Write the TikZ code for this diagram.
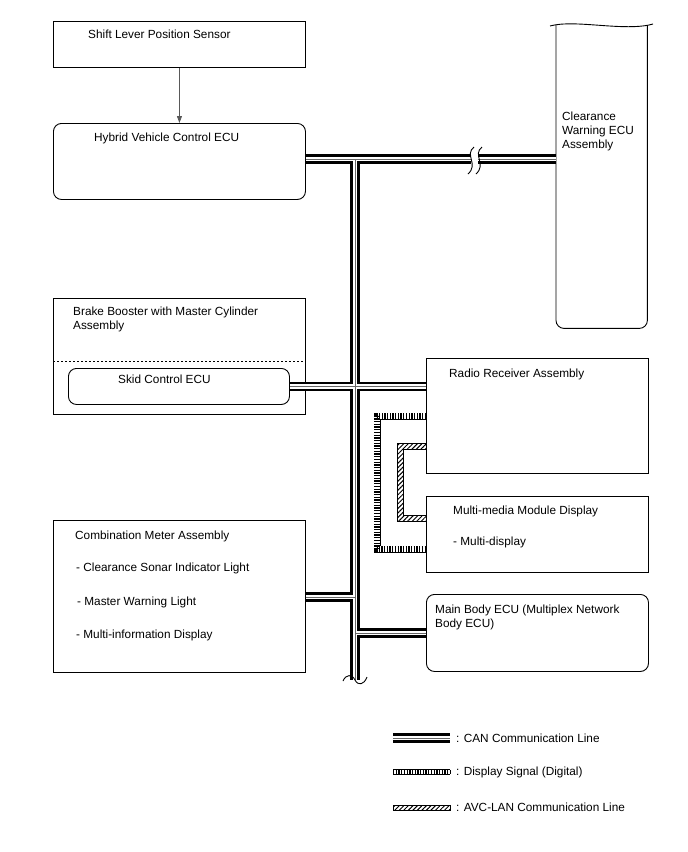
\documentclass[tikz,border=0pt]{standalone}
\usepackage{fontspec}
\setmainfont{Liberation Sans}
\usetikzlibrary{patterns.meta,arrows.meta}
\begin{document}
\begin{tikzpicture}[x=1pt,y=-1pt,
  box/.style={draw,line width=0.9pt,rectangle,anchor=north west,inner sep=0pt},
  rbox/.style={box,rounded corners=8pt},
  lbl/.style={anchor=west,inner sep=0pt,font=\fontsize{11.8}{14}\selectfont,align=left},
  disp/.style={line width=5.4pt,dash pattern=on 1.3pt off 1.4pt,line join=miter},
  avcfill/.style={pattern={Lines[angle=45,distance=3.2pt,line width=1pt]}},
  brk/.style={line width=0.9pt}]
\useasboundingbox (0,0) rectangle (688,852);

% boxes
\node[box,minimum width=252pt,minimum height=46pt] (slps) at (53,21) {};
\node[rbox,minimum width=252pt,minimum height=76pt] (hvc) at (53,123) {};
\node[box,minimum width=252pt,minimum height=116pt] (bbm) at (53,298) {};
\node[rbox,minimum width=221pt,minimum height=36pt] (skid) at (68,368) {};
\node[box,minimum width=252pt,minimum height=152pt] (cma) at (53,520) {};
\node[box,minimum width=222pt,minimum height=115pt] (rra) at (426,358) {};
\node[box,minimum width=222pt,minimum height=76pt] (mmd) at (426,496) {};
\node[rbox,minimum width=222pt,minimum height=77pt] (mbe) at (426,594) {};
\node[anchor=north west,inner sep=0pt,minimum width=91pt,minimum height=303pt] (clr) at (556,25) {};

% clearance warning ECU outline
\draw[line width=0.9pt,rounded corners=8pt] (clr.north west) -- (clr.south west) -- (clr.south east) -- (clr.north east);
\draw[brk] (550,26) .. controls (575,19) and (625,32) .. (653,24);

% brake booster divider
\draw[line width=0.8pt,dash pattern=on 2pt off 2pt] (bbm.west |- 0,361) -- (bbm.east |- 0,361);

% labels
\node[lbl] (t1) at (88,34) {Shift Lever Position Sensor};
\node[lbl] (t2) at (94,138) {Hybrid Vehicle Control ECU};
\node[lbl] (t3) at (73,319) {Brake Booster with Master Cylinder\\Assembly};
\node[lbl] (t4) at (118,379) {Skid Control ECU};
\node[lbl] (t5) at (75,536) {Combination Meter Assembly};
\node[lbl] (t6) at (76,568) {- Clearance Sonar Indicator Light};
\node[lbl] (t7) at (77,602) {- Master Warning Light};
\node[lbl] (t8) at (76,635) {- Multi-information Display};
\node[lbl] (t9) at (449,374) {Radio Receiver Assembly};
\node[lbl] (t10) at (453,511) {Multi-media Module Display};
\node[lbl] (t11) at (453,542) {- Multi-display};
\node[lbl] (t12) at (435,617) {Main Body ECU (Multiplex Network\\Body ECU)};
\node[lbl] (t13) at (562,131) {Clearance\\Warning ECU\\Assembly};

% arrow
\draw[-{Triangle[length=7pt,width=5pt]},black!65,line width=0.8pt] (slps.south) -- (hvc.north);

% CAN bus
\coordinate (btop) at (355,159);
\coordinate (bbot) at (355,680);
\coordinate (brkL) at (471,159);
\coordinate (brkR) at (478,159);
\coordinate (jc) at (355,597);
\coordinate (jm) at (355,633);
\coordinate (lc1) at (393,738);
\coordinate (lc2) at (450,738);
\foreach \w/\c in {9.5/black,4.6/white,0.7/black!60} {
  \draw[line width=\w pt,\c]
    (hvc.east |- btop) -- (brkL)
    (brkR) -- (clr.west |- btop)
    (btop) -- (bbot)
    (skid.east) -- (rra.west |- skid.east)
    (cma.east |- jc) -- (jc)
    (jm) -- (mbe.west |- jm)
    (lc1) -- (lc2);
}
% breaks
\draw[brk] (474,147) .. controls (464,155) and (479,164) .. (468,174);
\draw[brk] (482,147) .. controls (472,155) and (487,164) .. (476,174);
\draw[brk] (343,681) .. controls (346,674) and (352,674) .. (355,680) .. controls (358,686) and (364,685) .. (367,677);

% display signal (digital)
\coordinate (d1) at (377,416);
\coordinate (d2) at (377,549);
\coordinate (ld1) at (393,772);
\coordinate (ld2) at (450,772);
\draw[line width=7pt,line join=miter] (rra.west |- d1) -- (d1) -- (d2) -- (mmd.west |- d2);
\draw[line width=5.4pt,white,line join=miter] (rra.west |- d1) -- (d1) -- (d2) -- (mmd.west |- d2);
\draw[disp] (rra.west |- d1) -- (d1) -- (d2) -- (mmd.west |- d2);
\draw[line width=6pt] (ld1) -- (ld2);
\draw[line width=4.4pt,white] (ld1) -- (ld2);
\draw[disp,line width=4.4pt] (ld1) -- (ld2);

% AVC-LAN
\fill[avcfill] (426,443) -- (397,443) -- (397,521) -- (426,521) -- (426,515) -- (403,515) -- (403,449) -- (426,449) -- cycle;
\draw[line width=0.7pt] (rra.west |- 0,443) -- (397,443) -- (397,521) -- (mmd.west |- 0,521);
\draw[line width=0.7pt] (rra.west |- 0,449) -- (403,449) -- (403,515) -- (mmd.west |- 0,515);
\node[draw,line width=0.7pt,avcfill,inner sep=0pt,minimum width=57pt,minimum height=5.5pt,anchor=west] (la) at (393,808) {};

% legend text
\node[lbl] (g1) at (456,738) {: CAN Communication Line};
\node[lbl] (g2) at (456,772) {: Display Signal (Digital)};
\node[lbl] (g3) at (456,807) {: AVC-LAN Communication Line};
\end{tikzpicture}
\end{document}
